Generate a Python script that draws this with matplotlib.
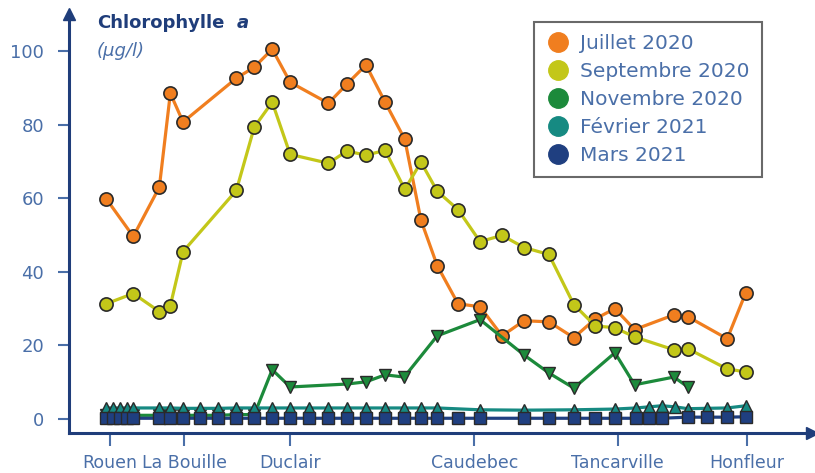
import matplotlib.pyplot as plt
from matplotlib.lines import Line2D

# distance along the estuary (arbitrary km scale, Rouen = 0)
stations = ["Rouen", "La Bouille", "Duclair", "Caudebec", "Tancarville", "Honfleur"]
station_km = [0, 12.8, 31, 62.9, 87.7, 110]

# Juillet / Septembre 2020 share the same sampling points
x_summer = [-0.7, 4.0, 8.5, 10.4, 12.6, 21.8, 24.9, 28.0, 31.1, 37.7, 40.9, 44.2, 47.5, 50.9,
            53.7, 56.5, 60.1, 63.9, 67.7, 71.5, 75.8, 80.1, 83.8, 87.2, 90.6, 97.4, 99.8, 106.6, 109.8]
juillet = [59.9, 49.6, 63, 88.5, 80.7, 92.6, 95.6, 100.5, 91.5, 85.8, 91, 96.2, 86.1, 76,
           54, 41.7, 31.3, 30.5, 22.6, 26.7, 26.4, 22.1, 27.2, 30, 24.3, 28.3, 27.8, 21.8, 34.3]
septembre = [31.3, 34.1, 29.2, 30.8, 45.5, 62.1, 79.3, 86.1, 71.9, 69.5, 72.8, 71.7, 73, 62.4,
             69.8, 61.9, 56.9, 48.2, 49.9, 46.6, 44.7, 31.1, 25.3, 24.8, 22.3, 18.8, 19.1, 13.6, 12.8]

x_nov = [-0.7, 0.5, 1.7, 2.9, 4.0, 8.5, 10.4, 12.6, 15.5, 18.7, 21.8, 24.9, 28.0, 31.1, 40.9,
         44.2, 47.5, 50.8, 56.5, 63.9, 71.5, 75.8, 80.1, 87.2, 90.6, 97.4, 99.8]
novembre = [1, 1, 1, 1, 1, 1, 1, 1, 1, 1, 1.2, 1.2, 13.4, 8.7, 9.5,
            10.1, 12, 11.4, 22.6, 27, 17.4, 12.5, 8.4, 18, 9.3, 11.4, 8.7]

x_fev = [-0.7, 0.5, 1.7, 2.9, 4.0, 8.5, 10.4, 12.6, 15.5, 18.7, 21.8, 24.9, 28.0, 31.1, 34.4,
         37.7, 40.9, 44.2, 47.5, 50.8, 53.7, 56.5, 63.9, 71.5, 80.1, 87.2, 90.8, 93.1, 95.3,
         97.6, 99.8, 103.1, 106.6, 109.8]
fevrier = [3.0, 3.0, 3.0, 3.0, 3.0, 3.0, 3.0, 2.9, 2.9, 2.9, 3.0, 3.0, 3.0, 3.0, 3.0,
           3.0, 3.0, 3.0, 3.0, 3.0, 3.0, 3.0, 2.5, 2.4, 2.5, 2.7, 3.0, 3.3, 3.6,
           3.3, 2.8, 2.9, 3.0, 3.6]

x_mars = [-0.7, 0.5, 1.7, 2.9, 4.0, 8.5, 10.4, 12.6, 15.5, 18.7, 21.8, 24.9, 28.0, 31.1, 34.4,
          37.7, 40.9, 44.2, 47.5, 50.8, 53.7, 56.5, 60.1, 63.9, 71.5, 75.8, 80.1, 83.8, 87.2,
          90.8, 93.1, 95.3, 99.8, 103.1, 106.6, 109.8]
mars = [0.2] * 32 + [0.5, 0.5, 0.5, 0.6]

labels = ["Juillet 2020", "Septembre 2020", "Novembre 2020", "Février 2021", "Mars 2021"]
colors = ["#f07e1f", "#c3c719", "#1c8a3b", "#168a82", "#1f3f80"]

navy = "#1f3d7a"
tick_blue = "#4a6fa8"

fig = plt.figure(figsize=(8.15, 4.73), dpi=100)
ax = fig.add_axes([0.0847, 0.0846, 0.9113, 0.8854])

lw = 2.3
ax.plot(x_summer, juillet, color=colors[0], lw=lw, marker="o", ms=9.5,
        mfc=colors[0], mec="#2a2a2a", mew=1.2, zorder=3)
ax.plot(x_summer, septembre, color=colors[1], lw=lw, marker="o", ms=9.5,
        mfc=colors[1], mec="#2a2a2a", mew=1.2, zorder=4)
ax.plot(x_nov, novembre, color=colors[2], lw=lw, marker="v", ms=9,
        mfc=colors[2], mec="#2a2a2a", mew=1.0, zorder=5)
ax.plot(x_fev, fevrier, color=colors[3], lw=lw, marker="^", ms=9,
        mfc=colors[3], mec="#2a2a2a", mew=1.0, zorder=6)
ax.plot(x_mars, mars, color=colors[4], lw=lw, marker="s", ms=8,
        mfc=colors[4], mec="#2a2a2a", mew=1.0, zorder=7)

ax.set_xlim(-7.1, 121.2)
ax.set_ylim(-3.8, 110)

# axes with arrows
for s in ["top", "right"]:
    ax.spines[s].set_visible(False)
for s in ["left", "bottom"]:
    ax.spines[s].set_color(navy)
    ax.spines[s].set_linewidth(2.2)
ax.plot(1, 0, ">", color=navy, ms=8, transform=ax.transAxes, clip_on=False)
ax.plot(0, 1, "^", color=navy, ms=8, transform=ax.transAxes, clip_on=False)

ax.set_yticks([0, 20, 40, 60, 80, 100])
ax.set_xticks(station_km)
ax.set_xticklabels(stations)
ax.tick_params(axis="y", direction="out", length=8, width=1.5, color=tick_blue,
               labelcolor=tick_blue, labelsize=13, pad=10)
ax.tick_params(axis="x", direction="out", length=9, width=1.5, color=tick_blue,
               labelcolor=tick_blue, labelsize=12.5, pad=6)

# title on the y axis
fig.text(97 / 815, 1 - 23 / 473, "Chlorophylle", color=navy, fontsize=13,
         fontweight="bold", va="center", ha="left")
fig.text(237 / 815, 1 - 23 / 473, "a", color=navy, fontsize=13,
         fontweight="bold", style="italic", va="center", ha="left")
fig.text(97 / 815, 1 - 51 / 473, "(µg/l)", color=tick_blue, fontsize=13,
         style="italic", va="center", ha="left")

handles = [Line2D([], [], ls="none", marker="o", ms=14, mfc=c, mec=c) for c in colors]
leg = ax.legend(handles, labels, loc="upper left", bbox_to_anchor=(534 / 815, 1 - 22 / 473),
                bbox_transform=fig.transFigure, frameon=True, fancybox=False,
                fontsize=14.5, labelcolor=tick_blue, handletextpad=0.5,
                labelspacing=0.45, borderpad=0.6, handlelength=1.2, borderaxespad=0)
leg.get_frame().set_edgecolor("#444444")
leg.get_frame().set_linewidth(1.5)

fig.savefig("out.png", dpi=100)
